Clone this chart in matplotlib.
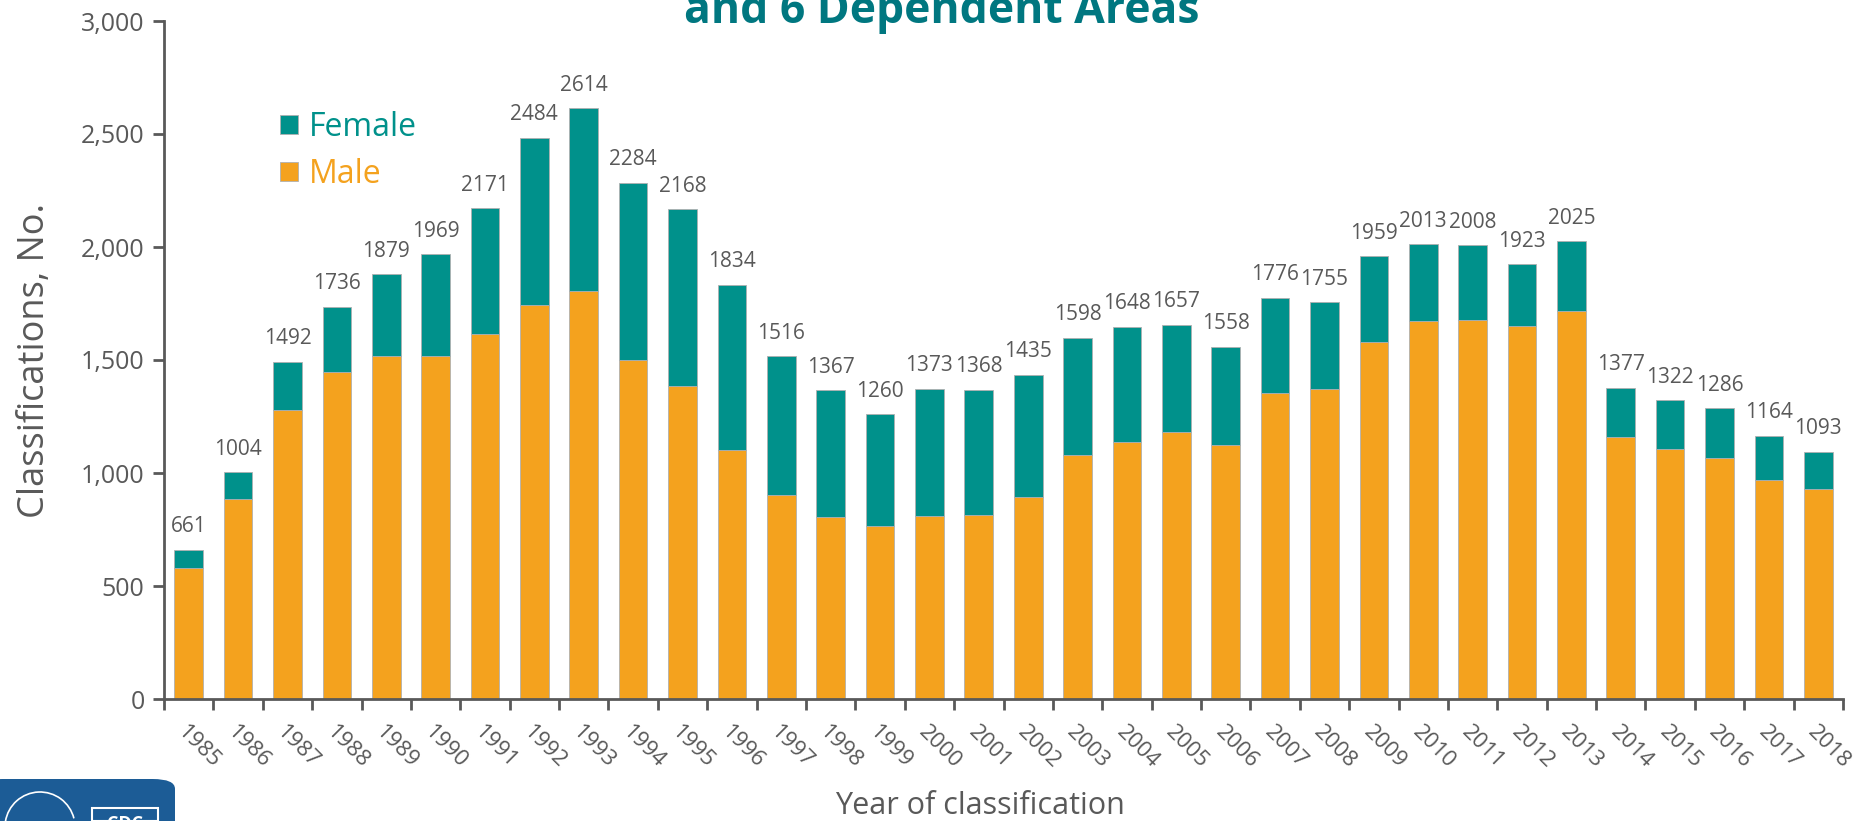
import matplotlib
matplotlib.use("Agg")
import matplotlib.pyplot as plt
import numpy as np
from matplotlib.patches import FancyBboxPatch, Rectangle, Arc

plt.rcParams['font.family'] = ['Open Sans', 'DejaVu Sans']

years = [str(y) for y in range(1985, 2019)]
male = [580, 886, 1278, 1445, 1517, 1517, 1617, 1742, 1807, 1501, 1387, 1101,
        901, 804, 764, 810, 816, 895, 1079, 1136, 1182, 1124, 1352, 1370,
        1581, 1672, 1678, 1650, 1718, 1160, 1107, 1067, 969, 931]
female = [81, 118, 214, 291, 362, 452, 554, 742, 807, 783, 781, 733,
          615, 563, 496, 563, 552, 540, 519, 512, 475, 434, 424, 385,
          378, 341, 330, 273, 307, 217, 215, 219, 195, 162]

orange = '#F4A21E'
teal = '#00918B'
grey = '#595959'

W, H = 1864, 821
fig = plt.figure(figsize=(W / 100, H / 100), dpi=100)
ax = fig.add_axes([164 / W, 1 - 699 / H, (1843 - 164) / W, (699 - 21) / H])

x = np.arange(len(years))
ax.bar(x, male, width=0.58, color=orange, edgecolor='#B0B0B0', linewidth=0.6, label='Male')
ax.bar(x, female, bottom=male, width=0.58, color=teal, edgecolor='#B0B0B0', linewidth=0.6, label='Female')

for i in range(len(years)):
    tot = male[i] + female[i]
    ax.annotate(str(tot), (x[i], tot), xytext=(0, 9), textcoords='offset points',
                ha='center', va='bottom', fontsize=15, color=grey)

ax.set_xlim(-0.5, len(years) - 0.5)
ax.set_ylim(0, 3000)
ax.set_yticks(np.arange(0, 3001, 500))
ax.set_yticklabels([f'{v:,}' for v in range(0, 3001, 500)], fontsize=18, color=grey)

ax.set_xticks(np.arange(-0.5, len(years), 1))
ax.set_xticklabels([])
ax.set_xticks(x, minor=True)
ax.set_xticklabels(years, minor=True, rotation=-45, ha='left', va='top',
                   rotation_mode='anchor', fontsize=16, color=grey)
ax.tick_params(axis='x', which='major', length=8, width=2, color=grey, direction='out')
ax.tick_params(axis='x', which='minor', length=0, pad=16)
ax.tick_params(axis='y', length=8, width=2, color=grey, pad=6)

for s in ['top', 'right']:
    ax.spines[s].set_visible(False)
for s in ['left', 'bottom']:
    ax.spines[s].set_color(grey)
    ax.spines[s].set_linewidth(2)

ax.set_ylabel('Classifications, No.', fontsize=26, color=grey, labelpad=20)
fig.text(980 / W, 1 - 806 / H, 'Year of classification', fontsize=22, color=grey,
         ha='center', va='center')

handles, labels = ax.get_legend_handles_labels()
leg = ax.legend(handles[::-1], labels[::-1], loc='upper left', bbox_to_anchor=(0.052, 0.91),
                frameon=False, fontsize=23, handlelength=0.55, handleheight=0.55,
                handletextpad=0.35, labelspacing=0.45, labelcolor=[teal, orange])

fig.text(942 / W, 1 - 23 / H, 'and 6 Dependent Areas', fontsize=32, fontweight='bold',
         color='#007780', ha='center', va='baseline')

# CDC logo stub in the bottom-left corner
logo = FancyBboxPatch((-20 / W, -20 / H), 195 / W, (821 - 779 + 20) / H,
                      boxstyle='round,pad=0,rounding_size=0.012', transform=fig.transFigure,
                      facecolor='#1C5C96', edgecolor='none', clip_on=False)
fig.patches.append(logo)
fig.patches.append(Arc((40 / W, -6 / H), 70 / W, 70 / H, theta1=30, theta2=160,
                       transform=fig.transFigure, color='white', linewidth=1.2))
fig.patches.append(Rectangle((92 / W, 0), 66 / W, 13 / H, transform=fig.transFigure,
                             facecolor='none', edgecolor='white', linewidth=1.5))
fig.text(125 / W, -0.004, 'CDC', fontsize=13, fontweight='bold', color='white',
         ha='center', va='center')

fig.savefig('out.png', dpi=100)
